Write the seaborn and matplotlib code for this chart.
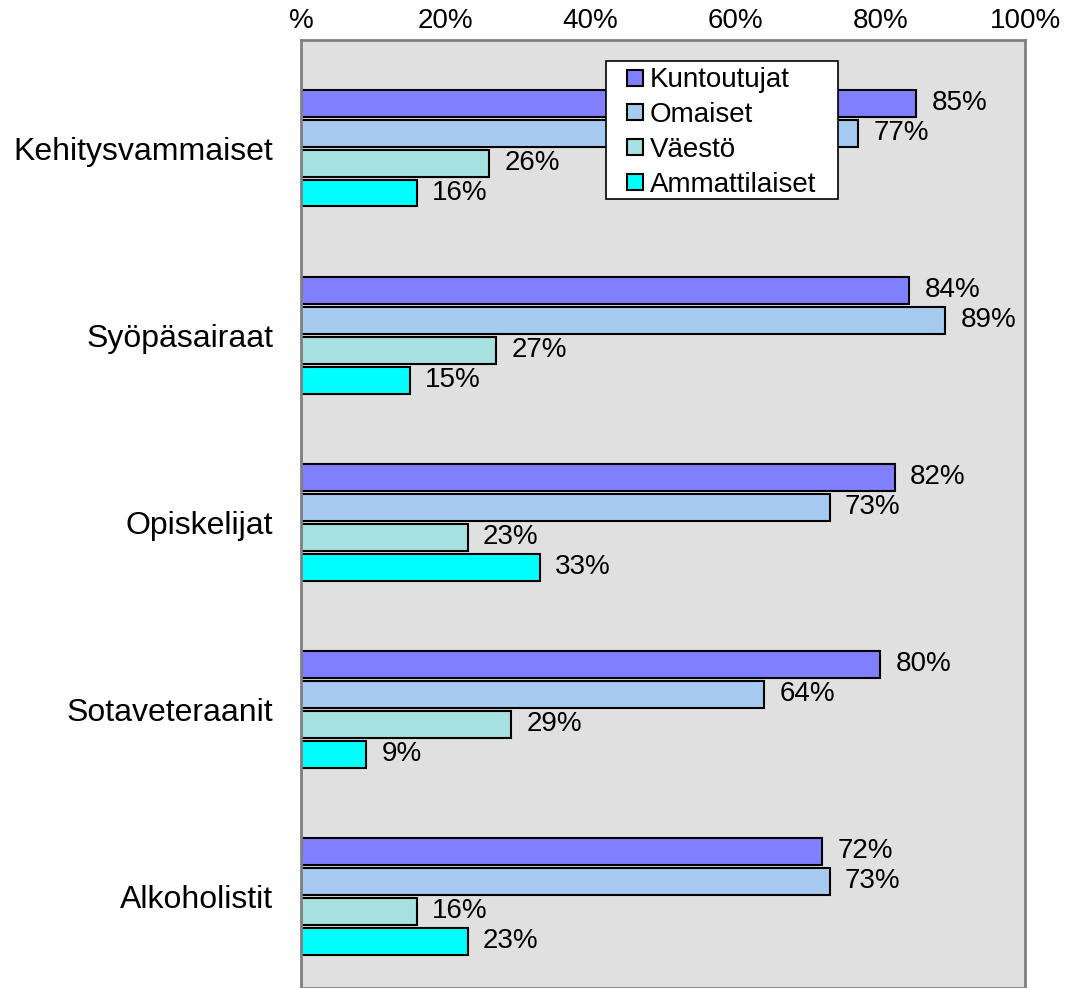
import matplotlib
matplotlib.use("Agg")
import matplotlib.pyplot as plt
from matplotlib.lines import Line2D
from matplotlib.patches import Rectangle
import seaborn as sns
import pandas as pd

categories = ["Kehitysvammaiset", "Syöpäsairaat", "Opiskelijat", "Sotaveteraanit", "Alkoholistit"]
series = ["Kuntoutujat", "Omaiset", "Väestö", "Ammattilaiset"]
kuntoutujat = [85, 84, 82, 80, 72]
omaiset = [77, 89, 73, 64, 73]
vaesto = [26, 27, 23, 29, 16]
ammattilaiset = [16, 15, 33, 9, 23]
xticks = [0, 20, 40, 60, 80, 100]
xtick_labels = ["%", "20%", "40%", "60%", "80%", "100%"]
colors = ["#8080FF", "#A6CAF0", "#A6E0E0", "#00FFFF"]

rows = []
for s, vals in zip(series, [kuntoutujat, omaiset, vaesto, ammattilaiset]):
    for c, v in zip(categories, vals):
        rows.append({"cat": c, "series": s, "val": v})
df = pd.DataFrame(rows)

sns.set_style("white")
plt.rcParams['font.family'] = ['Liberation Sans', 'DejaVu Sans']

fig = plt.figure(figsize=(10.72, 9.88), dpi=100)
W, H = 1072, 988
ax = fig.add_axes([301 / W, 0, (1025 - 301) / W, (988 - 40) / H])
ax.set_facecolor("#E0E0E0")

sns.barplot(data=df, y="cat", x="val", hue="series", order=categories,
            hue_order=series, palette=colors, orient="h", width=0.64, gap=0.1,
            edgecolor="black", linewidth=1.5, saturation=1, ax=ax, errorbar=None,
            legend=False)

ax.set_xlim(0, 100)
ax.set_ylim(4.49, -0.578)
ax.xaxis.tick_top()
ax.set_xticks(xticks)
ax.set_xticklabels(xtick_labels, fontsize=20, color="black")
ax.tick_params(axis="x", length=0, pad=4.5)
ax.tick_params(axis="y", length=0, pad=20, labelsize=23, labelcolor="black")
ax.set_xlabel("")
ax.set_ylabel("")
for sp in ax.spines.values():
    sp.set_color("#808080")
    sp.set_linewidth(2)

for cont in ax.containers:
    ax.bar_label(cont, labels=[f"{int(v)}%" for v in cont.datavalues],
                 padding=11, fontsize=20, color="black")

# legend frame box
AW, AH = 1025 - 301, 988 - 40
lx0, lx1, ly0, ly1 = 606, 838, 61, 199
box = Rectangle(((lx0 - 301) / AW, (988 - ly1) / AH), (lx1 - lx0) / AW, (ly1 - ly0) / AH,
                transform=ax.transAxes, facecolor="white", edgecolor="black",
                linewidth=1.2, zorder=4.5)
ax.add_patch(box)

handles = [Line2D([], [], marker="s", linestyle="", markersize=11.5,
                  markerfacecolor=c, markeredgecolor="black", markeredgewidth=1.5)
           for c in colors]
leg = ax.legend(handles, series, loc="upper left",
                bbox_to_anchor=((lx0 - 301) / AW, (988 - (ly0 + 3.5)) / AH), borderaxespad=0,
                fontsize=20, handlelength=1.885, handletextpad=-0.4,
                labelspacing=0.32, frameon=False, borderpad=0.1)
leg.set_zorder(5)
for t in leg.get_texts():
    t.set_color("black")

fig.savefig("out.png", dpi=100)
